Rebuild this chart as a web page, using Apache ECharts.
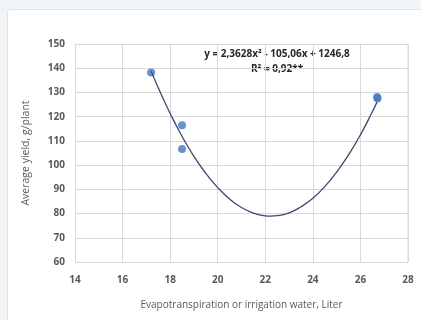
<!DOCTYPE html>
<html>
<head>
<meta charset="utf-8">
<script src="https://cdn.jsdelivr.net/npm/echarts@6/dist/echarts.min.js"></script>
<style>
html,body{margin:0;padding:0;background:#f1f5f8;}
#card{position:absolute;left:7px;top:9px;width:420px;height:320px;background:#fff;border:1px solid #dfe5ea;border-radius:3px;}
#main{position:absolute;left:0;top:0;width:421px;height:320px;}
</style>
</head>
<body>
<div id="card"></div>
<div id="main"></div>
<script>
//观测点 (ET, 产量)
var pointX = [17.2, 18.5, 18.5, 26.7, 26.72];
var pointY = [138.2, 116.5, 106.6, 128.1, 127.5];
//趋势线 读图取点
var trendX = [17.2, 17.5, 18, 18.5, 19, 19.5, 20, 20.5, 21, 21.5, 22, 22.23, 22.5, 23, 23.5, 24, 24.5, 25, 25.5, 26, 26.5, 26.7];
var trendY = [138.8, 131.9, 121.3, 111.9, 103.6, 96.6, 90.7, 86.0, 82.5, 80.2, 79.08, 78.95, 79.12, 80.3, 82.8, 86.3, 91.1, 97.1, 104.2, 112.5, 122.0, 126.1];
var eqText = "y = 2,3628x² - 105,06x + 1246,8";
var r2Text = "R² = 0,92**";

function zip(xs,ys){
	var arr = [];
	for(var i=0;i<xs.length;i++){
		arr.push([xs[i],ys[i]]);
	}
	return arr;
}

var myChart = echarts.init(document.getElementById("main"));
var labelStyle = {color:"#595959",fontSize:10,fontWeight:"bold",fontFamily:"Open Sans"};
var option = {
	animation:false,
	grid:{left:75,right:13,top:44,bottom:58},
	xAxis:{
		type:"value",min:14,max:28,interval:2,
		name:"Evapotranspiration or irrigation water, Liter",
		nameLocation:"middle",nameGap:38,
		nameTextStyle:{color:"#595959",fontSize:10,fontFamily:"Open Sans"},
		axisLine:{show:false},axisTick:{show:false},
		axisLabel:Object.assign({margin:13},labelStyle),
		splitLine:{lineStyle:{color:"#d9d9d9"}}
	},
	yAxis:{
		type:"value",min:60,max:150,interval:10,
		name:"Average yield, g/plant",
		nameLocation:"middle",nameGap:43,
		nameTextStyle:{color:"#595959",fontSize:10.5,fontFamily:"Open Sans"},
		axisLine:{show:true,lineStyle:{color:"#d9d9d9"}},axisTick:{show:false},
		axisLabel:Object.assign({margin:10},labelStyle),
		splitLine:{lineStyle:{color:"#d9d9d9"}}
	},
	graphic:[
		{type:"line",shape:{x1:408,y1:44,x2:408,y2:262},style:{stroke:"#d9d9d9",lineWidth:1}},
		{type:"text",style:{x:277,y:54,text:eqText,fill:"#262626",font:"bold 10px 'Open Sans'",textAlign:"center",textVerticalAlign:"middle"}},
		{type:"text",style:{x:277,y:69,text:r2Text,fill:"#262626",font:"bold 10px 'Open Sans'",textAlign:"center",textVerticalAlign:"middle"}}
	],
	series:[
		{
			type:"line",data:zip(trendX,trendY),smooth:true,showSymbol:false,
			lineStyle:{color:"#3b4a6b",width:1.3}
		},
		{
			type:"scatter",data:zip(pointX,pointY),symbolSize:8,
			itemStyle:{color:"#4177c0"}
		}
	]
};
myChart.setOption(option);
</script>
</body>
</html>
